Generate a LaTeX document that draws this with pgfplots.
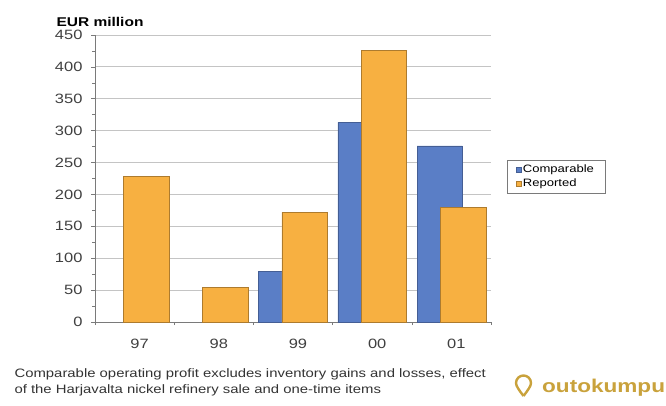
\documentclass[border=0pt]{standalone}
\usepackage{fontspec}
\setmainfont{Liberation Sans}[FakeStretch=1.22]
\usepackage{pgfplots}
\pgfplotsset{compat=1.18}
\definecolor{compblue}{HTML}{5A7EC6}
\definecolor{reporange}{HTML}{F7B041}
\definecolor{gridgrey}{HTML}{C4C4C4}
\definecolor{axisgrey}{HTML}{7A7A7A}
\definecolor{logogold}{HTML}{C9A23C}

\begin{document}
\begin{tikzpicture}[x=1pt,y=1pt]
\useasboundingbox (-95,-83) rectangle (571,322);
\begin{axis}[
  at={(0,0)}, anchor=south west,
  scale only axis, width=396pt, height=287pt,
  xmin=-0.5, xmax=4.5, ymin=0, ymax=450,
  axis lines=left,
  axis line style={axisgrey, line width=0.8pt, -},
  xtick={0,...,4}, xticklabels={97,98,99,00,01},
  minor xtick={-0.5,0.5,...,4.5},
  major x tick style={draw=none},
  minor x tick style={axisgrey, line width=0.6pt},
  ytick={0,50,...,450},
  minor y tick num=1,
  tick align=outside,
  major tick length=4pt, minor tick length=3pt,
  y tick style={axisgrey, line width=0.6pt},
  ymajorgrids,
  grid style={gridgrey, line width=1pt},
  ticklabel style={font=\fontsize{13.5}{15}\selectfont, text=black!75},
  /pgf/number format/assume math mode=true,
  xticklabel style={yshift=-10pt, xshift=5pt},
  yticklabel style={xshift=-5pt},
  ybar, bar width=0.574,
  legend style={at={(1.040,0.566)}, anchor=north west,
    draw=axisgrey, line width=0.6pt, font=\fontsize{10.7}{12}\selectfont,
    row sep=1pt, inner xsep=9pt, inner ysep=3pt,
    legend cell align=left},
  legend image code/.code={\draw[#1,line width=0.3pt] (0pt,-2.2pt) rectangle (4.4pt,2.2pt);},
]
\addplot[bar shift=-0.147, fill=compblue, draw=compblue!75!black, line width=0.5pt]
  coordinates {(2,79) (3,313) (4,276)};
\addlegendentry{Comparable}
\addplot[bar shift=0.147, fill=reporange, draw=reporange!70!black, line width=0.5pt]
  coordinates {(0,228) (1,54) (2,172) (3,426) (4,180)};
\addlegendentry{Reported}
\end{axis}
% axis title
\node[anchor=west, font=\bfseries\fontsize{12.7}{14}\selectfont] at (-42,300) {EUR million};
% footnote
\node[anchor=west, font=\fontsize{12.2}{14}\selectfont, text=black!80] at (-84,-52)
  {Comparable operating profit excludes inventory gains and losses, effect};
\node[anchor=west, font=\fontsize{12.2}{14}\selectfont, text=black!80] at (-84,-68)
  {of the Harjavalta nickel refinery sale and one-time items};
% company logo
\draw[logogold, line width=2.4pt] (428.5,-74) .. controls (424,-68) and (421,-64) .. (421,-61)
  arc[start angle=180, end angle=0, radius=7.5] .. controls (436,-64) and (433,-68) .. (428.5,-74);
\node[anchor=west, inner xsep=0pt, text=logogold, font=\bfseries\fontsize{18.5}{20}\selectfont] at (447,-66) {outokumpu};
\end{tikzpicture}
\end{document}
